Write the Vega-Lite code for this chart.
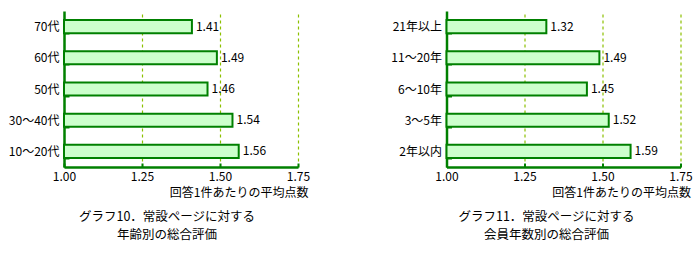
{
  "$schema": "https://vega.github.io/schema/vega-lite/v6.json",
  "padding": {"left": 4, "top": 5, "right": 5, "bottom": 5},
  "bounds": "flush",
  "spacing": 148.5,
  "datasets": {
    "age": [
      {"cat": "70代", "v": 1.41},
      {"cat": "60代", "v": 1.49},
      {"cat": "50代", "v": 1.46},
      {"cat": "30～40代", "v": 1.54},
      {"cat": "10～20代", "v": 1.56}
    ],
    "years": [
      {"cat": "21年以上", "v": 1.32},
      {"cat": "11～20年", "v": 1.49},
      {"cat": "6～10年", "v": 1.45},
      {"cat": "3～5年", "v": 1.52},
      {"cat": "2年以内", "v": 1.59}
    ]
  },
  "hconcat": [
    {
      "width": 234,
      "height": 156,
      "data": {"name": "age"},
      "title": {"text": ["グラフ10．常設ページに対する", "年齢別の総合評価"], "orient": "bottom", "anchor": "middle", "dx": -14, "offset": 13},
      "encoding": {
        "y": {"field": "cat", "type": "nominal", "sort": null, "scale": {"paddingInner": 0.58, "paddingOuter": 0.29},
          "axis": {"title": null, "minExtent": 60, "maxExtent": 60, "labelPadding": 10, "tickBand": "extent", "tickSize": -5}},
        "x": {"field": "v", "type": "quantitative", "scale": {"domain": [1, 1.75], "zero": false, "nice": false},
          "axis": {"values": [1, 1.25, 1.5, 1.75], "format": ".2f", "title": "回答1件あたりの平均点数", "tickSize": -4, "labelPadding": 8, "labelFlush": false,
            "titleX": 244, "titleY": 20, "titleAlign": "right", "titleBaseline": "top", "grid": true,
            "gridColor": "#8cc000", "gridDash": [3, 3], "gridWidth": 1.2, "gridOpacity": 1}}
      },
      "layer": [
        {"mark": {"type": "bar", "fill": "#ccffcc", "stroke": "#008000", "strokeWidth": 2}, "encoding": {"x2": {"datum": 1}}},
        {"mark": {"type": "text", "align": "left", "baseline": "middle", "dx": 4, "fontSize": 12}, "encoding": {"text": {"field": "v", "type": "quantitative", "format": ".2f"}}}
      ]
    },
    {
      "width": 234,
      "height": 156,
      "data": {"name": "years"},
      "title": {"text": ["グラフ11．常設ページに対する", "会員年数別の総合評価"], "orient": "bottom", "anchor": "middle", "dx": -17, "offset": 13},
      "encoding": {
        "y": {"field": "cat", "type": "nominal", "sort": null, "scale": {"paddingInner": 0.58, "paddingOuter": 0.29},
          "axis": {"title": null, "minExtent": 60, "maxExtent": 60, "labelPadding": 10, "tickBand": "extent", "tickSize": -5}},
        "x": {"field": "v", "type": "quantitative", "scale": {"domain": [1, 1.75], "zero": false, "nice": false},
          "axis": {"values": [1, 1.25, 1.5, 1.75], "format": ".2f", "title": "回答1件あたりの平均点数", "tickSize": -4, "labelPadding": 8, "labelFlush": false,
            "titleX": 244, "titleY": 20, "titleAlign": "right", "titleBaseline": "top", "grid": true,
            "gridColor": "#8cc000", "gridDash": [3, 3], "gridWidth": 1.2, "gridOpacity": 1}}
      },
      "layer": [
        {"mark": {"type": "bar", "fill": "#ccffcc", "stroke": "#008000", "strokeWidth": 2}, "encoding": {"x2": {"datum": 1}}},
        {"mark": {"type": "text", "align": "left", "baseline": "middle", "dx": 4, "fontSize": 12}, "encoding": {"text": {"field": "v", "type": "quantitative", "format": ".2f"}}}
      ]
    }
  ],
  "config": {
    "view": {"stroke": null},
    "font": "Noto Sans CJK JP",
    "title": {"fontSize": 12.5, "fontWeight": "normal", "color": "#000", "lineHeight": 18},
    "axis": {
      "domainColor": "#008000", "domainWidth": 2.5,
      "tickColor": "#008000", "tickWidth": 2,
      "labelColor": "#000", "labelFontSize": 12, "labelFont": "Noto Sans CJK JP",
      "titleColor": "#000", "titleFontSize": 12, "titleFontWeight": "normal", "titleFont": "Noto Sans CJK JP"
    }
  }
}
